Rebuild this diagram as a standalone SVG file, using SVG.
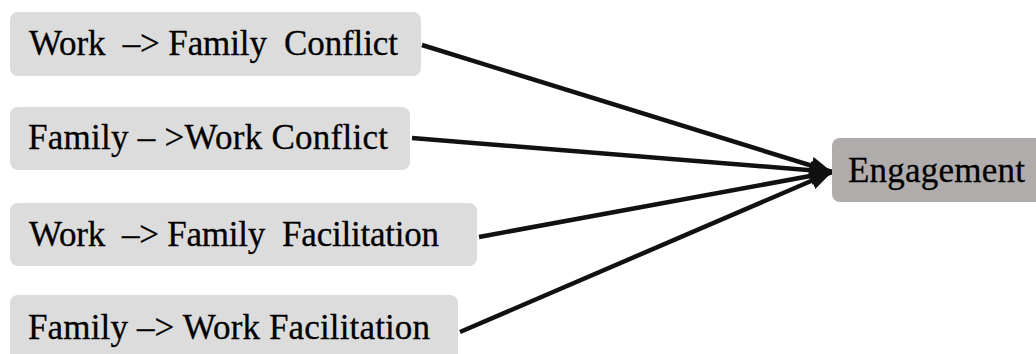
<svg xmlns="http://www.w3.org/2000/svg" width="1036" height="354" viewBox="0 0 1036 354">
<style>
.box{fill:#dcdcdc}
.out{fill:#b0acab}
.t{font-family:'Liberation Serif','Times New Roman',serif;font-size:35px;fill:#000;stroke:#000;stroke-width:0.3}
.c{stroke:#111;stroke-width:4.5;fill:none;marker-end:url(#ah)}
</style>
<defs>
<marker id="ah" markerUnits="userSpaceOnUse" markerWidth="24" markerHeight="22" viewBox="0 0 24 22" refX="22" refY="11" orient="auto">
<path d="M0,2 L22,11 L0,20 Z" fill="#111"/>
</marker>
</defs>
<rect width="1036" height="354" fill="#fff"/>
<g id="connectors">
<line class="c" x1="422" y1="45" x2="832" y2="172"/>
<line class="c" x1="412" y1="138" x2="832" y2="172"/>
<line class="c" x1="479" y1="237" x2="832" y2="172"/>
<line class="c" x1="460" y1="332" x2="832" y2="172"/>
</g>
<g id="n1">
<rect class="box" x="10" y="12" width="411" height="64" rx="8"/>
<text class="t" x="29" y="55" textLength="369" lengthAdjust="spacing" xml:space="preserve">Work  –&gt; Family  Conflict</text>
</g>
<g id="n2">
<rect class="box" x="10" y="107" width="400" height="63" rx="8"/>
<text class="t" x="28" y="149" textLength="360" lengthAdjust="spacing" xml:space="preserve">Family – &gt;Work Conflict</text>
</g>
<g id="n3">
<rect class="box" x="10" y="203" width="467" height="63" rx="8"/>
<text class="t" x="29" y="246" textLength="410" lengthAdjust="spacing" xml:space="preserve">Work  –&gt; Family  Facilitation</text>
</g>
<g id="n4">
<rect class="box" x="10" y="295" width="448" height="80" rx="8"/>
<text class="t" x="28" y="339" textLength="402" lengthAdjust="spacing" xml:space="preserve">Family –&gt; Work Facilitation</text>
</g>
<g id="n5">
<rect class="out" x="832" y="138" width="220" height="64" rx="8"/>
<text class="t" x="848" y="182" textLength="177" lengthAdjust="spacing">Engagement</text>
</g>
</svg>
